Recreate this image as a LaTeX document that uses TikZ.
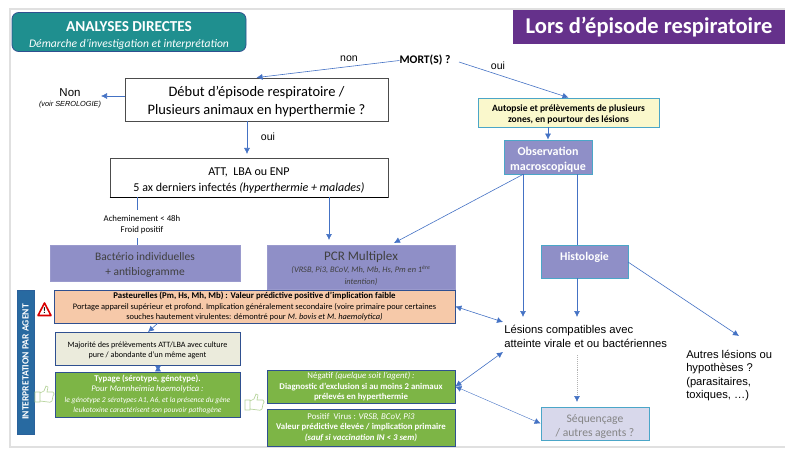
\documentclass[tikz,border=0pt]{standalone}
\usepackage{fontspec}
\setmainfont{Carlito}
\newfontfamily\arialfont{Liberation Sans}
\usetikzlibrary{positioning,arrows.meta}
\definecolor{arrowblue}{HTML}{4472C4}
\definecolor{tealhead}{HTML}{1F8F8F}
\definecolor{purplehead}{HTML}{65318B}
\definecolor{slatefill}{HTML}{8F8FC7}
\definecolor{navyline}{HTML}{2F5090}
\definecolor{cyanline}{HTML}{4BA6C8}
\definecolor{peachfill}{HTML}{F6C9A9}
\definecolor{greenfill}{HTML}{7DB546}
\definecolor{thumbline}{HTML}{B5D39A}
\definecolor{creamfill}{HTML}{EBEBDC}
\definecolor{yellowfill}{HTML}{FAF8CC}
\newcommand{\lowerby}[1]{\rule{0pt}{#1}}
\tikzset{
  boxsize/.style 2 args = {minimum width=#1*0.75pt, minimum height=#2*0.75pt},
  basebox/.style   = {shape=rectangle, align=center, inner sep=0pt, line width=0.6pt},
  whitebox/.style  = {basebox, draw=black!70, fill=white},
  slatebox/.style  = {basebox, fill=slatefill, draw=slatefill!90!white, text=black!75},
  obsbox/.style    = {basebox, fill=slatefill, draw=cyanline, text=white, font=\bfseries\fontsize{9}{11.2}\selectfont},
  peachbox/.style  = {basebox, fill=peachfill, draw=navyline, font=\fontsize{6.3}{7.9}\selectfont},
  greenbox/.style  = {basebox, fill=greenfill, draw=navyline, text=white, font=\bfseries\fontsize{6.6}{7.9}\selectfont},
  plainlabel/.style= {inner sep=0pt, align=left, font=\arialfont\fontsize{7.9}{9}\selectfont},
  link/.style      = {draw=arrowblue, line width=0.45pt},
  arrowlink/.style = {link, -{Latex[length=4.5pt,width=4.5pt]}},
  bothlink/.style  = {link, {Latex[length=4.5pt,width=4.5pt]}-{Latex[length=4.5pt,width=4.5pt]}},
  thumb/.pic = {
    \draw [thumbline, line width=0.5pt, fill=white]
      (0,6) -- (5,6) -- (5,16) -- (0,16) -- cycle
      (5,7) -- (9,5) -- (11,0) -- (13,1) -- (12,6) -- (18,6)
      .. controls (20,7) and (19,9) .. (18,10) -- (17,15)
      .. controls (16,17) and (14,16) .. (13,16) -- (5,15);
  }
}

\begin{document}
\begin{tikzpicture}[x=0.75pt, y=-0.75pt]
\useasboundingbox (0,0) rectangle (790,460);

\draw [black!12, line width=1.4pt] (785,9) -- (10,9) -- (10,447) -- (785,447);

\node [basebox, rounded corners=5pt, boxsize={234}{39}, fill=tealhead, draw=navyline, text=white, font=\fontsize{9}{12}\selectfont]
  (head) at (129,32) {\lowerby{12.3pt}\bfseries\fontsize{11.4}{13}\selectfont ANALYSES DIRECTES\\
  \mdseries\itshape\fontsize{8.7}{10}\selectfont Démarche d’investigation et interprétation};
\node [basebox, boxsize={272}{34}, fill=purplehead, text=white, font=\bfseries\fontsize{16.9}{18}\selectfont]
  (title) at (649,27) {Lors d’épisode respiratoire};

\node [inner sep=0pt, font=\bfseries\fontsize{8.7}{10}\selectfont] (mort) at (425,60.5) {MORT(S) ?};
\node [whitebox, boxsize={263}{43}, font=\fontsize{10.85}{13.5}\selectfont] (debut) at (256.5,99.5)
  {\lowerby{10.2pt}Début d’épisode respiratoire /\\Plusieurs animaux en hyperthermie ?};
\node [whitebox, boxsize={278}{39}, font=\fontsize{9}{11.3}\selectfont] (att) at (249,177.5)
  {\lowerby{10.5pt}ATT,\ \ LBA ou ENP\\5 ax derniers infectés \textit{(hyperthermie + malades)}};
\node [plainlabel, font=\arialfont\fontsize{8.6}{10}\selectfont] (non) at (70,93) {Non};
\node [plainlabel, font=\arialfont\itshape\fontsize{5.5}{6}\selectfont] (serologie) at (70,104.5) {(voir SEROLOGIE)};
\node [plainlabel] (nonlabel) at (349,58.5) {non};
\node [plainlabel] (ouilabel) at (498,65.5) {oui};
\node [plainlabel] (ouidebut) at (268,137) {oui};
\node [inner sep=0pt, align=center, font=\fontsize{6.6}{8.2}\selectfont] (froid) at (142,224.5)
  {Acheminement < 48h\\Froid positif};

\node [basebox, boxsize={181}{29}, fill=yellowfill, draw=cyanline, font=\bfseries\fontsize{7.2}{8.6}\selectfont] (autopsie) at (568.5,112.5)
  {\lowerby{7.5pt}Autopsie et prélèvements de plusieurs\\zones, en pourtour des lésions};
\node [obsbox, boxsize={88}{34}] (obs) at (548,157) {\lowerby{10.4pt}Observation\\macroscopique};
\node [slatebox, boxsize={190}{36}, font=\fontsize{8.6}{11.2}\selectfont] (bacterio) at (145,263)
  {\lowerby{9.4pt}Bactério individuelles\\+ antibiogramme};
\node [slatebox, boxsize={188}{44}, font=\fontsize{7}{9}\selectfont] (pcr) at (361,267.5)
  {\lowerby{8.5pt}\fontsize{9.8}{12}\selectfont PCR Multiplex\\
  \itshape\fontsize{6.3}{7.6}\selectfont (VRSB, Pi3, BCoV, Mh, Mb, Hs, Pm en 1\textsuperscript{ère}\\
  \itshape\fontsize{6.3}{7.6}\selectfont intention)};
\node [obsbox, boxsize={87}{33}, font=\bfseries\fontsize{8.8}{11}\selectfont] (histo) at (584.5,261.5) {\lowerby{9.5pt}Histologie\\ \ };

\node [peachbox, boxsize={401}{33}] (pasteur) at (254.5,306.5)
  {\textbf{\fontsize{6.6}{7.9}\selectfont Pasteurelles (Pm, Hs, Mh, Mb) : Valeur prédictive positive d’implication faible}\\
  Portage appareil supérieur et profond. Implication généralement secondaire (voire primaire pour certaines\\
  souches hautement virulentes: démontré pour \textit{M. bovis et M. haemolytica)}};
\node [basebox, boxsize={185}{33}, fill=creamfill, draw=navyline, font=\fontsize{6.1}{7.4}\selectfont] (majorite) at (147.5,348.5)
  {\lowerby{7.6pt}Majorité des prélèvements ATT/LBA avec culture\\pure / abondante d’un même agent};
\node [greenbox, boxsize={185}{45}] (typage) at (147.5,394.5)
  {Typage (sérotype, génotype).\\
  \mdseries\itshape\fontsize{6.5}{7.9}\selectfont Pour Mannheimia haemolytica :\\
  \mdseries\itshape\fontsize{5.65}{6.6}\selectfont le génotype 2 sérotypes A1, A6, et la présence du gène\\
  \mdseries\itshape\fontsize{5.65}{6.6}\selectfont leukotoxine caractérisent son pouvoir pathogène};
\node [greenbox, boxsize={188}{33}] (negatif) at (361,386.5)
  {\mdseries Négatif \textit{(quelque soit l’agent) :}\\Diagnostic d’exclusion si au moins 2 animaux\\prélevés en hyperthermie};
\node [greenbox, boxsize={188}{37}] (positif) at (361,427.5)
  {\mdseries Positif\ \ Virus : \textit{VRSB, BCoV, Pi3}\\Valeur prédictive élevée / implication primaire\\\textit{(sauf si vaccination IN < 3 sem)}};
\node [basebox, boxsize={17}{144}, fill=navyline!85!cyan, draw=navyline!90!cyan] (agentbar) at (25.5,362) {};
\node [rotate=90, inner sep=0pt, text=white, font=\bfseries\fontsize{7.2}{8}\selectfont] (agenttext) at (25.5,362)
  {INTERPRETATION PAR AGENT};
\node [basebox, boxsize={108}{33}, fill=slatefill!35!white, draw=cyanline, text=black!48, font=\fontsize{8.7}{10.5}\selectfont]
  (sequence) at (595,423.5) {\lowerby{10.3pt}Séquençage\\/ autres agents ?};

\node [plainlabel, anchor=west, font=\arialfont\fontsize{8.45}{10.5}\selectfont] (lesions) at (504,336)
  {Lésions compatibles avec\\atteinte virale et ou bactériennes};
\node [plainlabel, anchor=north west, font=\arialfont\fontsize{8.4}{10.2}\selectfont] (autres) at (686,349.5)
  {Autres lésions ou\\hypothèses ?\\(parasitaires,\\toxiques, …)};

\coordinate (warntop) at (44.5,303);
\draw [red!85!black, line width=1.2pt, fill=white, line join=round]
  (warntop) -- (51,315.5) -- (38,315.5) -- cycle;
\node [inner sep=0pt, font=\bfseries\fontsize{6.5}{7}\selectfont] (warnmark) at (44.5,311) {!};
\pic at (35,386) {thumb};
\pic at (245,394) {thumb};

\coordinate (mortout) at (459,62);
\coordinate (attin) at (247,154);
\coordinate (nonin) at (101,96);
\coordinate (froidtop) at (137.5,210);
\coordinate (froidlow) at (137.5,238);
\coordinate (pcrtop) at (329,240);
\coordinate (pcrdiag) at (394,243);
\coordinate (lesionsa) at (523,317);
\coordinate (lesionsb) at (577,317);
\coordinate (lesionsc) at (503,322);
\coordinate (lesionsd) at (503,352);
\coordinate (histoout) at (628,262);
\coordinate (autresin) at (739,336);
\coordinate (seqfrom) at (577,355);
\coordinate (seqin) at (577,402);
\coordinate (pastout) at (158,323);
\coordinate (majin) at (148,332);

\draw [arrowlink] (mort.west) -- (debut.north);
\draw [arrowlink] (mortout) -- (autopsie.north);
\draw [arrowlink] (debut.west |- nonin) -- (nonin);
\draw [arrowlink] (debut.south -| attin) -- (attin);
\draw [black, line width=0.9pt] (att.south west) -- (att.south east);
\draw [link] (att.south -| froidtop) -- (froidtop);
\draw [link] (froidlow) -- (bacterio.north -| froidlow);
\draw [arrowlink] (att.south -| pcrtop) -- (pcrtop);
\draw [arrowlink] (obs.south -| lesionsa) -- (pcrdiag);
\draw [arrowlink] (obs.south -| lesionsa) -- (lesionsa);
\draw [link] (obs.south -| lesionsb) -- (histo.north -| lesionsb);
\draw [arrowlink] (histo.south -| lesionsb) -- (lesionsb);
\draw [arrowlink] (histoout) -- (autresin);
\draw [arrowlink] (autopsie.south -| obs.north) -- (obs.north);
\draw [bothlink] (pasteur.east) -- (lesionsc);
\draw [bothlink] (negatif.east) -- (lesionsd);
\draw [bothlink, line width=0.3pt] (negatif.east) -- (sequence.west);
\draw [black!30, densely dotted, line width=0.45pt, -{Latex[length=4.5pt,width=4.5pt,color=arrowblue]}] (seqfrom) -- (seqin);
\draw [arrowlink] (pastout) -- (majin);
\draw [bothlink] (majorite.south -| pastout) -- (typage.north -| pastout);
\end{tikzpicture}
\end{document}
